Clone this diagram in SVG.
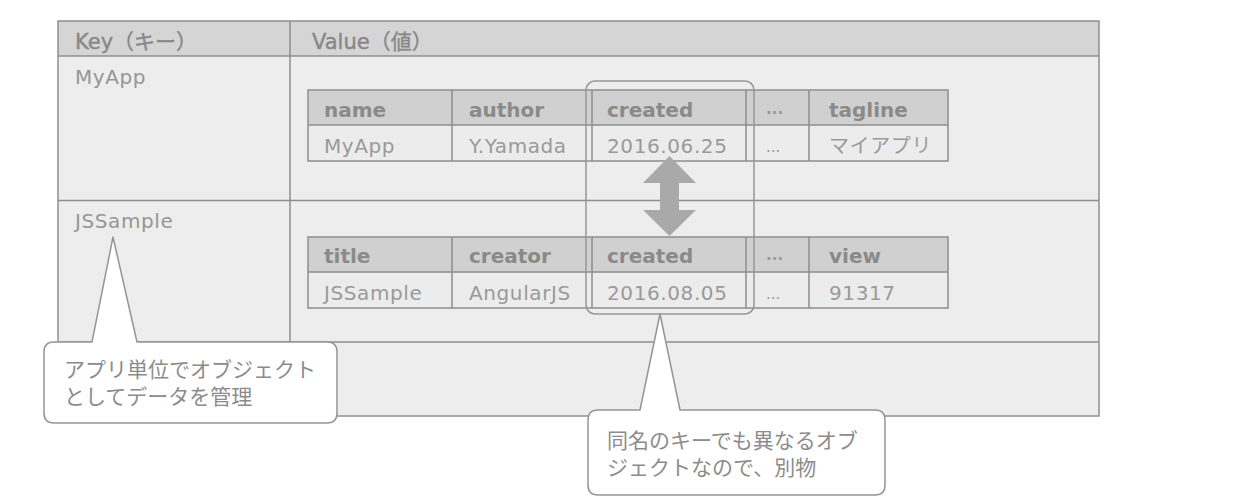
<svg xmlns="http://www.w3.org/2000/svg" width="1248" height="504" viewBox="0 0 1248 504">
  <style>
    .line { stroke: #8e8e8e; stroke-width: 1.5; fill: none; }
    .hdr { fill: #d0d0d0; }
    .cell { fill: #ececec; }
    .th { font-family: "DejaVu Sans", "Noto Sans CJK JP", sans-serif; font-size: 20px; font-weight: bold; fill: #8a8a8a; }
    .td { font-family: "DejaVu Sans", "Noto Sans CJK JP", sans-serif; font-size: 20px; fill: #9a9a9a; letter-spacing: 0.6px; }
    .dots { font-family: "DejaVu Sans", sans-serif; font-size: 15px; fill: #999999; }
    .oh { font-family: "DejaVu Sans", "Noto Sans CJK JP", sans-serif; font-size: 21px; fill: #888888; stroke: #888888; stroke-width: 0.4px; }
    .key { font-family: "DejaVu Sans", "Noto Sans CJK JP", sans-serif; font-size: 20px; fill: #969696; letter-spacing: 0.6px; }
    .note { font-family: "Noto Sans CJK JP", sans-serif; font-size: 21px; fill: #8c8c8c; }
    .callout { fill: #ffffff; stroke: #959595; stroke-width: 1.5; stroke-linejoin: round; }
  </style>

  <g id="outer-table">
    <rect x="58" y="21" width="1041" height="395" fill="#ededed"/>
    <rect x="58" y="21" width="1041" height="35" fill="#d5d5d5"/>
    <rect x="58" y="21" width="1041" height="395" class="line"/>
    <line x1="58" y1="56" x2="1099" y2="56" class="line"/>
    <line x1="290" y1="21" x2="290" y2="416" class="line"/>
    <line x1="58" y1="200.5" x2="1099" y2="200.5" class="line"/>
    <line x1="58" y1="342" x2="1099" y2="342" class="line"/>
    <text x="75" y="49" class="oh">Key（キー）</text>
    <text x="312" y="49" class="oh">Value（値）</text>
  </g>

  <g id="key-myapp">
    <text x="75" y="84" class="key">MyApp</text>
  </g>
  <g id="key-jssample">
    <text x="75" y="228" class="key">JSSample</text>
  </g>

  <g id="table-myapp">
    <rect x="308" y="90" width="640" height="35" class="hdr"/>
    <rect x="308" y="125" width="640" height="36" class="cell"/>
    <rect x="308" y="90" width="640" height="71" class="line"/>
    <line x1="308" y1="125" x2="948" y2="125" class="line"/>
    <line x1="452" y1="90" x2="452" y2="161" class="line"/>
    <line x1="592" y1="90" x2="592" y2="161" class="line"/>
    <line x1="746" y1="90" x2="746" y2="161" class="line"/>
    <line x1="809" y1="90" x2="809" y2="161" class="line"/>
    <text x="324" y="117" class="th">name</text>
    <text x="469" y="117" class="th">author</text>
    <text x="607" y="117" class="th">created</text>
    <text x="766" y="114" class="dots" font-weight="bold">...</text>
    <text x="829" y="117" class="th">tagline</text>
    <text x="324" y="153" class="td">MyApp</text>
    <text x="469" y="153" class="td">Y.Yamada</text>
    <text x="607" y="153" class="td">2016.06.25</text>
    <text x="766" y="152" class="dots">...</text>
    <text x="829" y="153" class="td">マイアプリ</text>
  </g>

  <g id="table-jssample">
    <rect x="308" y="237" width="640" height="35" class="hdr"/>
    <rect x="308" y="272" width="640" height="36" class="cell"/>
    <rect x="308" y="237" width="640" height="71" class="line"/>
    <line x1="308" y1="272" x2="948" y2="272" class="line"/>
    <line x1="452" y1="237" x2="452" y2="308" class="line"/>
    <line x1="592" y1="237" x2="592" y2="308" class="line"/>
    <line x1="746" y1="237" x2="746" y2="308" class="line"/>
    <line x1="809" y1="237" x2="809" y2="308" class="line"/>
    <text x="324" y="263" class="th">title</text>
    <text x="469" y="263" class="th">creator</text>
    <text x="607" y="263" class="th">created</text>
    <text x="766" y="260" class="dots" font-weight="bold">...</text>
    <text x="829" y="263" class="th">view</text>
    <text x="324" y="300" class="td">JSSample</text>
    <text x="469" y="300" class="td">AngularJS</text>
    <text x="607" y="300" class="td">2016.08.05</text>
    <text x="766" y="299" class="dots">...</text>
    <text x="829" y="300" class="td">91317</text>
  </g>

  <g id="created-highlight">
    <rect x="586" y="81" width="168" height="233" rx="9" ry="9" fill="none" stroke="#969696" stroke-width="1.5"/>
  </g>

  <g id="connectors">
    <path d="M669.5,156 L696,183 L679,183 L679,210 L696,210 L669.5,236 L643,210 L660,210 L660,183 L643,183 Z" fill="#a9a9a9"/>
  </g>

  <g id="callout-app">
    <path class="callout" d="M54,342 L92,342 L113,237 L137,342 L327,342 Q337,342 337,352 L337,413 Q337,423 327,423 L54,423 Q44,423 44,413 L44,352 Q44,342 54,342 Z"/>
    <text class="note"><tspan x="64" y="377">アプリ単位でオブジェクト</tspan><tspan x="64" y="404">としてデータを管理</tspan></text>
  </g>

  <g id="callout-created">
    <path class="callout" d="M598,410 L640,410 L660,314 L680,410 L875,410 Q885,410 885,420 L885,485 Q885,495 875,495 L598,495 Q588,495 588,485 L588,420 Q588,410 598,410 Z"/>
    <text class="note"><tspan x="607" y="448">同名のキーでも異なるオブ</tspan><tspan x="607" y="475">ジェクトなので、別物</tspan></text>
  </g>
</svg>
